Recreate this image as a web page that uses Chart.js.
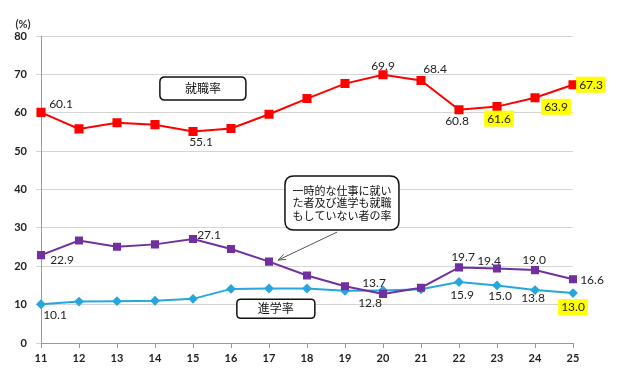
<!DOCTYPE html>
<html><head><meta charset="utf-8">
<script src="https://cdn.jsdelivr.net/npm/chart.js@4/dist/chart.umd.min.js"></script>
<style>html,body{margin:0;padding:0;background:#fff}#wrap{width:640px;height:383px}</style>
</head><body><div id="wrap"><canvas id="c" width="640" height="383"></canvas></div>
<script>
const years = ['11','12','13','14','15','16','17','18','19','20','21','22','23','24','25'];
const employmentRate = [60.1,55.8,57.4,56.9,55.1,55.9,59.6,63.7,67.6,69.9,68.4,60.8,61.6,63.9,67.3];
const neitherRate = [22.9,26.7,25.1,25.7,27.1,24.5,21.2,17.6,14.8,12.8,14.4,19.7,19.4,19.0,16.6];
const advancementRate = [10.1,10.8,10.9,11.0,11.5,14.1,14.2,14.2,13.6,13.7,14.0,15.9,15.0,13.8,13.0];
const yTicks = [0,10,20,30,40,50,60,70,80];
const seriesNames = ['就職率','一時的な仕事に就いた者及び進学も就職もしていない者の率','進学率'];

// label placement (style only): index, dx, dy, highlight
const labelSpecs = [
  [{i:0,dx:20,dy:-9},{i:4,dx:8,dy:10},{i:9,dx:0,dy:-9},{i:10,dx:14,dy:-12},{i:11,dx:-2,dy:11},
   {i:12,dx:2,dy:12,hl:true},{i:13,dx:21,dy:9,hl:true},{i:14,dx:18,dy:0,hl:true}],
  [{i:0,dx:21,dy:5},{i:4,dx:16,dy:-4},{i:9,dx:-13,dy:9},{i:11,dx:4,dy:-11},{i:12,dx:-8,dy:-8},
   {i:13,dx:-1,dy:-10},{i:14,dx:19,dy:0}],
  [{i:0,dx:14,dy:10},{i:9,dx:-9,dy:-8},{i:11,dx:3,dy:13},{i:12,dx:3,dy:10},{i:13,dx:-2,dy:8},
   {i:14,dx:0,dy:14,hl:true}]
];

function rrect(ctx,x,y,w,h,r){
  ctx.beginPath();
  ctx.moveTo(x+r,y);ctx.lineTo(x+w-r,y);ctx.quadraticCurveTo(x+w,y,x+w,y+r);
  ctx.lineTo(x+w,y+h-r);ctx.quadraticCurveTo(x+w,y+h,x+w-r,y+h);
  ctx.lineTo(x+r,y+h);ctx.quadraticCurveTo(x,y+h,x,y+h-r);
  ctx.lineTo(x,y+r);ctx.quadraticCurveTo(x,y,x+r,y);ctx.closePath();
}

const annotPlugin = {
  id:'annot',
  afterDatasetsDraw(chart){
    const ctx = chart.ctx, xs = chart.scales.x, ys = chart.scales.y;
    ctx.save();
    // data labels
    ctx.font = '12px Lato, "Liberation Sans", sans-serif';
    ctx.textAlign='center'; ctx.textBaseline='middle';
    labelSpecs.forEach((specs,di)=>{
      const meta = chart.getDatasetMeta(di);
      const data = chart.data.datasets[di].data;
      specs.forEach(s=>{
        const p = meta.data[s.i];
        const t = data[s.i].toFixed(1);
        const x = p.x + s.dx, y = p.y + s.dy;
        if (s.hl){
          const w = ctx.measureText(t).width + 6;
          ctx.fillStyle='#ffff00';
          ctx.fillRect(x-w/2, y-8, w, 16);
        }
        ctx.fillStyle='#222';
        ctx.fillText(t, x, y+0.5);
      });
    });
    // (%)
    ctx.font = 'bold 11px Lato, "Liberation Sans", sans-serif';
    ctx.fillStyle='#333';
    ctx.fillText('(%)', chart.chartArea.left-18, chart.chartArea.top-12);
    // boxes
    function box(ix, val, w, h, r, lines, fs){
      const cx = xs.getPixelForValue(ix), cy = ys.getPixelForValue(val);
      rrect(ctx, cx-w/2, cy-h/2, w, h, r);
      ctx.fillStyle='#fff'; ctx.fill();
      ctx.lineWidth=1.5; ctx.strokeStyle='#111'; ctx.stroke();
      ctx.fillStyle='#111';
      ctx.font = fs+'px "Noto Sans CJK JP", sans-serif';
      const lh = fs+1.5;
      lines.forEach((l,k)=>{
        ctx.fillText(l, cx, cy + (k-(lines.length-1)/2)*lh);
      });
    }
    box(4.26, 66.3, 86, 23, 5, ['就職率'], 12);
    box(6.18, 8.9, 78, 19, 4, ['進学率'], 12);
    // arrow
    const ax1 = xs.getPixelForValue(7.79), ay1 = ys.getPixelForValue(28.9);
    const ax2 = xs.getPixelForValue(6.24), ay2 = ys.getPixelForValue(21.6);
    ctx.strokeStyle='#555'; ctx.lineWidth=1;
    ctx.beginPath(); ctx.moveTo(ax1,ay1); ctx.lineTo(ax2,ay2); ctx.stroke();
    const ang = Math.atan2(ay2-ay1, ax2-ax1);
    ctx.beginPath();
    ctx.moveTo(ax2 - 8*Math.cos(ang-0.35), ay2 - 8*Math.sin(ang-0.35));
    ctx.lineTo(ax2,ay2);
    ctx.lineTo(ax2 - 8*Math.cos(ang+0.35), ay2 - 8*Math.sin(ang+0.35));
    ctx.stroke();
    box(7.92, 36.5, 114, 54, 9, ['一時的な仕事に就い','た者及び進学も就職','もしていない者の率'], 11);
    ctx.restore();
  }
};

new Chart(document.getElementById('c'), {
  type:'line',
  data:{
    labels: years,
    datasets:[
      {label:seriesNames[0], data:employmentRate, borderColor:'#ff0000', backgroundColor:'#ff0000',
       borderWidth:2, pointStyle:'rect', pointRadius:5, pointHoverRadius:5, tension:0},
      {label:seriesNames[1], data:neitherRate, borderColor:'#7030a0', backgroundColor:'#7030a0',
       borderWidth:2, pointStyle:'rect', pointRadius:4.3, pointHoverRadius:4.3, tension:0},
      {label:seriesNames[2], data:advancementRate, borderColor:'#27a6de', backgroundColor:'#27a6de',
       borderWidth:2, pointStyle:'rectRot', pointRadius:3.5, pointHoverRadius:3.5, tension:0}
    ]
  },
  options:{
    responsive:false, animation:false,
    layout:{padding:{top:36,right:67,left:0,bottom:0}},
    plugins:{legend:{display:false}, tooltip:{enabled:false}},
    scales:{
      x:{
        offset:false,
        grid:{drawOnChartArea:false, drawTicks:true, tickLength:5, color:'#999'},
        border:{color:'#999', width:1},
        ticks:{font:{family:'Lato, "Liberation Sans", sans-serif', size:11, weight:'bold'}, color:'#222', padding:4, maxRotation:0},
        afterFit(s){ s.height = 40; }
      },
      y:{
        min:0, max:80,
        afterBuildTicks(s){ s.ticks = yTicks.map(v=>({value:v})); },
        grid:{color:'#d4d4d4', lineWidth:1, drawTicks:true, tickLength:5},
        border:{color:'#999', width:1},
        ticks:{font:{family:'Lato, "Liberation Sans", sans-serif', size:11, weight:'bold'}, color:'#222', padding:9},
        afterFit(s){ s.width = 41; }
      }
    }
  },
  plugins:[annotPlugin]
});
</script></body></html>
